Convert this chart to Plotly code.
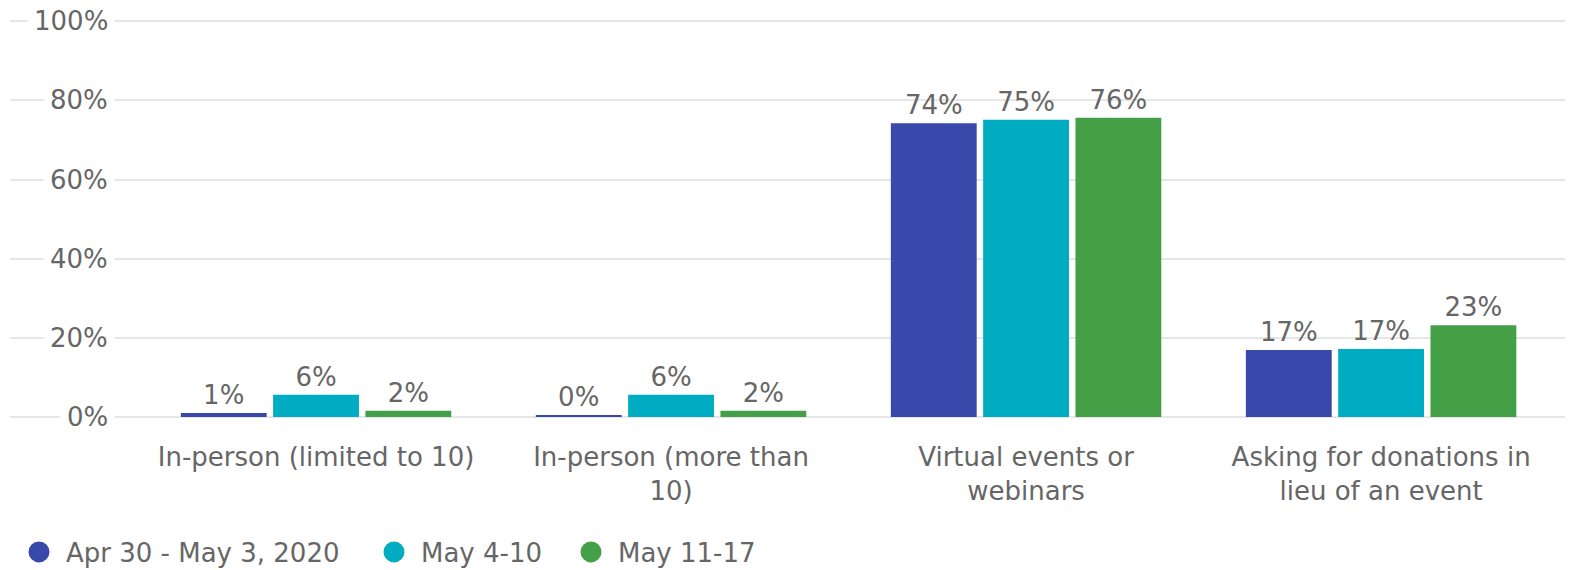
import plotly.graph_objects as go

categories = ["In-person (limited to 10)", "In-person (more than<br>10)",
              "Virtual events or<br>webinars", "Asking for donations in<br>lieu of an event"]
series_names = ["Apr 30 - May 3, 2020", "May 4-10", "May 11-17"]
apr30_may3 = [1.0, 0.4, 74.2, 16.9]
may4_10 = [5.6, 5.6, 75.1, 17.2]
may11_17 = [1.6, 1.6, 75.6, 23.2]
colors = ["#3949AB", "#00ACC1", "#43A047"]
y_ticks = [0, 20, 40, 60, 80, 100]
y_tick_labels = ["0%", "20%", "40%", "60%", "80%", "100%"]

FONT = "DejaVu Sans"
GRAY = "#666666"
FS = 26
W, H = 1574, 570
ML, MR, MT = 10, W - 1565, 20
MB = H - 417

x_pos = list(range(len(categories)))
fig = go.Figure()
for name, vals, col in zip(series_names, [apr30_may3, may4_10, may11_17], colors):
    fig.add_trace(go.Bar(
        x=x_pos, y=vals, name=name, marker_color=col, marker_line_width=0,
        texttemplate="%{y:.0f}%", textposition="outside", cliponaxis=False,
        textfont=dict(family=FONT, size=FS, color=GRAY), showlegend=False,
    ))

plot_w = W - ML - MR
plot_h = H - MT - MB
def px_to_paper(px):
    return (px - ML) / plot_w
def py_to_paper(py):
    return ((H - MB) - py) / plot_h

# legend entries with circle symbols, each in its own legend for placement
legend_x_px = [12, 367, 564]
legend_ids = ["legend", "legend2", "legend3"]
for name, col, lid in zip(series_names, colors, legend_ids):
    fig.add_trace(go.Scatter(
        x=[None], y=[None], mode="markers", name=name, legend=lid,
        marker=dict(symbol="circle", size=16, color=col,
                    line=dict(color=col, width=5)),
    ))

annotations = []
for v, lab in zip(y_ticks, y_tick_labels):
    annotations.append(dict(
        x=px_to_paper(115), xref="paper", y=v, yref="y", text=lab,
        showarrow=False, xanchor="right", yanchor="middle",
        bgcolor="white", borderpad=6,
        font=dict(family=FONT, size=FS, color=GRAY),
    ))

legend_common = dict(
    orientation="h", xanchor="left", yanchor="middle",
    y=py_to_paper(552), font=dict(family=FONT, size=FS, color=GRAY),
    itemsizing="trace", itemwidth=44, bgcolor="rgba(0,0,0,0)",
)

fig.update_layout(
    width=W, height=H,
    margin=dict(l=ML, r=MR, t=MT, b=MB, autoexpand=False),
    paper_bgcolor="white", plot_bgcolor="white",
    barmode="group", bargap=0.22, bargroupgap=0.07,
    xaxis=dict(
        range=[-0.862, 3.518], tickvals=x_pos, ticktext=categories,
        showgrid=False, zeroline=False, showline=False, automargin=False,
        ticks="outside", ticklen=17, tickcolor="rgba(0,0,0,0)",
        tickfont=dict(family=FONT, size=FS, color=GRAY),
    ),
    yaxis=dict(
        range=[0, 100.3], tickvals=y_ticks, showticklabels=False, automargin=False,
        showgrid=True, gridcolor="#e6e6e6", gridwidth=2,
        zeroline=True, zerolinecolor="#e6e6e6", zerolinewidth=2, showline=False,
    ),
    legend=dict(x=px_to_paper(legend_x_px[0]), **legend_common),
    legend2=dict(x=px_to_paper(legend_x_px[1]), **legend_common),
    legend3=dict(x=px_to_paper(legend_x_px[2]), **legend_common),
    annotations=annotations,
    showlegend=True,
)

fig.write_html("out.html", config={"displayModeBar": False},
               post_script="document.body.style.margin='0px';")
